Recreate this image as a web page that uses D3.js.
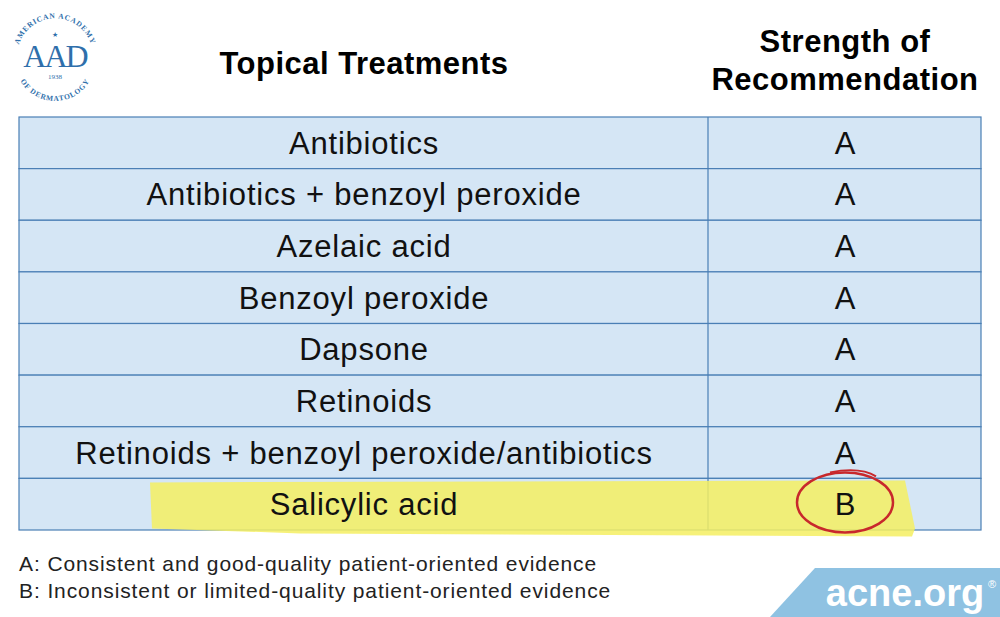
<!DOCTYPE html><html><head><meta charset="utf-8">
<script src="https://cdn.jsdelivr.net/npm/d3@7"></script>
<style>body{margin:0;background:#fff}</style></head><body>
<svg id="c" width="1000" height="617"></svg>
<script>
const treatments=["Antibiotics","Antibiotics + benzoyl peroxide","Azelaic acid","Benzoyl peroxide","Dapsone","Retinoids","Retinoids + benzoyl peroxide/antibiotics","Salicylic acid"];
const grades=["A","A","A","A","A","A","A","B"];
const notes=["A: Consistent and good-quality patient-oriented evidence","B: Inconsistent or limited-quality patient-oriented evidence"];
const svg=d3.select("#c");
const F="Liberation Sans, Arial, sans-serif";
const y=d3.scaleBand().domain(d3.range(treatments.length)).range([117,530]);
const x0=19,xd=708,x1=981;
svg.append("text").attr("x",364).attr("y",74).attr("text-anchor","middle").attr("font-family",F).attr("font-weight","bold").attr("font-size",31).attr("letter-spacing",0.5).text("Topical Treatments");
svg.append("text").attr("x",845).attr("y",52).attr("text-anchor","middle").attr("font-family",F).attr("font-weight","bold").attr("font-size",31).attr("letter-spacing",0.5).text("Strength of");
svg.append("text").attr("x",845).attr("y",90).attr("text-anchor","middle").attr("font-family",F).attr("font-weight","bold").attr("font-size",31).attr("letter-spacing",0.5).text("Recommendation");
// logo
const lg=svg.append("g").attr("transform","translate(55,55)").attr("fill","#2f6fab");
lg.append("path").attr("id","la").attr("d","M -37 10 A 38 38 0 1 1 37 10").attr("fill","none");
lg.append("text").attr("font-family","Liberation Serif, serif").attr("font-size",7.5).attr("font-weight","bold").attr("letter-spacing",0.8).append("textPath").attr("href","#la").attr("startOffset","50%").attr("text-anchor","middle").text("AMERICAN ACADEMY");
lg.append("path").attr("id","lb").attr("d","M -40 6 A 40 40 0 0 0 40 6").attr("fill","none");
lg.append("text").attr("font-family","Liberation Serif, serif").attr("font-size",7.5).attr("font-weight","bold").attr("letter-spacing",0.8).append("textPath").attr("href","#lb").attr("startOffset","50%").attr("text-anchor","middle").text("OF DERMATOLOGY");
lg.append("text").attr("x",0).attr("y",12).attr("text-anchor","middle").attr("font-family","Liberation Serif, serif").attr("font-size",32).attr("letter-spacing",-2).text("AAD");
lg.append("text").attr("y",-18).attr("text-anchor","middle").attr("font-size",7).text("★");
lg.append("text").attr("y",24).attr("text-anchor","middle").attr("font-family","Liberation Serif, serif").attr("font-size",7).text("1938");
// table
svg.append("g").selectAll("rect").data(treatments).join("rect").attr("x",x0).attr("y",(d,i)=>y(i)).attr("width",x1-x0).attr("height",y.bandwidth()).attr("fill","#d5e6f5").attr("stroke","#4a7fb5").attr("stroke-width",1.2);
svg.append("line").attr("x1",xd).attr("x2",xd).attr("y1",117).attr("y2",530).attr("stroke","#4a7fb5").attr("stroke-width",1.2);
const hy=y(7);
svg.append("path").attr("d",`M150,${hy+4} L905,${hy+2} L915,${hy+50} L912,${hy+58} L300,${hy+55} L152,${hy+50} Z`).attr("fill","#f5ef62").attr("opacity",0.85);
const rows=svg.append("g");
rows.selectAll("text.t").data(treatments).join("text").attr("class","t").attr("x",364).attr("y",(d,i)=>y(i)+y.bandwidth()/2+11).attr("text-anchor","middle").attr("font-family",F).attr("font-size",31).attr("letter-spacing",0.8).attr("fill","#111").text(d=>d);
rows.selectAll("text.g").data(grades).join("text").attr("class","g").attr("x",845).attr("y",(d,i)=>y(i)+y.bandwidth()/2+11).attr("text-anchor","middle").attr("font-family",F).attr("font-size",31).attr("fill","#111").text(d=>d);
svg.append("ellipse").attr("cx",845).attr("cy",hy+24).attr("rx",48).attr("ry",30).attr("fill","none").attr("stroke","#c8282c").attr("stroke-width",2.5);
svg.append("path").attr("d",`M830,${hy-6} Q860,${hy-12} 876,${hy-2}`).attr("fill","none").attr("stroke","#c8282c").attr("stroke-width",2);
svg.selectAll("text.n").data(notes).join("text").attr("class","n").attr("x",19).attr("y",(d,i)=>571+i*27).attr("font-family",F).attr("font-size",21).attr("letter-spacing",0.9).attr("fill","#222").text(d=>d);
svg.append("path").attr("d","M770,617 L815,568 L1000,568 L1000,617 Z").attr("fill","#8fc2e2");
svg.append("text").attr("x",905).attr("y",606).attr("text-anchor","middle").attr("font-family",F).attr("font-weight","bold").attr("font-size",38).attr("fill","#fff").text("acne.org");
svg.append("text").attr("x",988).attr("y",588).attr("font-family",F).attr("font-size",11).attr("fill","#fff").text("®");
</script></body></html>
